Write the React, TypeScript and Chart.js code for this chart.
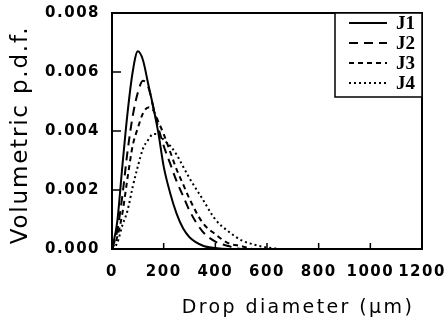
import React, { useEffect, useRef } from "react";
import { Chart, registerables } from "chart.js";

Chart.register(...registerables);

// Drop diameter (µm)
const diameters = [0, 20, 40, 60, 80, 100, 120, 140, 160, 180, 200, 225, 250, 275, 300, 350, 400, 450, 500, 550, 600, 650];
const j1 = [0, 0.0009, 0.0028, 0.0046, 0.006, 0.0067, 0.0064, 0.0056, 0.0048, 0.0039, 0.0028, 0.0019, 0.0012, 0.0007, 0.0004, 0.00012, 0.00003, 0, 0, 0, 0, 0];
const j2 = [0, 0.0006, 0.0018, 0.0033, 0.0045, 0.0053, 0.0057, 0.0055, 0.0048, 0.0041, 0.0035, 0.0029, 0.0023, 0.0018, 0.0013, 0.0006, 0.00025, 0.0001, 0, 0, 0, 0];
const j3 = [0, 0.0004, 0.0012, 0.0024, 0.0035, 0.0041, 0.0046, 0.0048, 0.0047, 0.0043, 0.0039, 0.0033, 0.0027, 0.0022, 0.0017, 0.0009, 0.0005, 0.0002, 0.0001, 0, 0, 0];
const j4 = [0, 0.0002, 0.0008, 0.0013, 0.0021, 0.0028, 0.0034, 0.0037, 0.0039, 0.0039, 0.0037, 0.0035, 0.0032, 0.0028, 0.0024, 0.0017, 0.001, 0.0006, 0.0003, 0.00015, 0.00005, 0];

const seriesLabels = ["J1", "J2", "J3", "J4"];
const seriesValues = [j1, j2, j3, j4];
const seriesDashes = [[], [9, 6], [5, 4], [2, 3]];

const xTicks = [0, 200, 400, 600, 800, 1000, 1200];
const yTicks = [0, 0.002, 0.004, 0.006, 0.008];

const xTitle = "Drop diameter (\u03bcm)";
const yTitle = "Volumetric p.d.f.";

const INK = "#000";

const decorPlugin = {
  id: "decor",
  beforeDraw(chart: any) {
    chart.ctx.letterSpacing = "1.5px";
  },
  afterDraw(chart: any) {
    const { ctx, chartArea: a, scales } = chart;
    const xs = scales.x;
    const ys = scales.y;
    ctx.save();
    ctx.letterSpacing = "0px";
    ctx.strokeStyle = INK;
    ctx.setLineDash([]);
    // frame
    ctx.lineWidth = 2;
    ctx.strokeRect(a.left, a.top, a.right - a.left, a.bottom - a.top);
    // inward ticks
    ctx.lineWidth = 1.5;
    ctx.beginPath();
    for (const v of yTicks) {
      const p = ys.getPixelForValue(v);
      ctx.moveTo(a.left, p);
      ctx.lineTo(a.left + 9, p);
    }
    for (const v of xTicks) {
      const p = xs.getPixelForValue(v);
      ctx.moveTo(p, a.bottom);
      ctx.lineTo(p, a.bottom - 6);
    }
    ctx.stroke();

    // legend box
    const bw = 87;
    const bh = 84;
    const bx = a.right - bw;
    const by = a.top;
    ctx.fillStyle = "#fff";
    ctx.fillRect(bx, by, bw, bh);
    ctx.lineWidth = 1.5;
    ctx.strokeRect(bx, by, bw, bh);
    chart.data.datasets.forEach((ds: any, i: number) => {
      const yy = by + 10 + i * 20;
      ctx.beginPath();
      ctx.lineWidth = 2;
      ctx.setLineDash(ds.borderDash || []);
      ctx.moveTo(bx + 14, yy);
      ctx.lineTo(bx + 52, yy);
      ctx.stroke();
      ctx.setLineDash([]);
      ctx.fillStyle = INK;
      ctx.font = "bold 19px 'Liberation Serif'";
      ctx.textAlign = "left";
      ctx.textBaseline = "middle";
      ctx.fillText(ds.label, bx + 61, yy + 1);
    });

    // axis titles
    ctx.fillStyle = INK;
    ctx.textAlign = "center";
    ctx.textBaseline = "middle";
    ctx.font = "19px 'DejaVu Sans'";
    ctx.letterSpacing = "2.4px";
    ctx.fillText(xTitle, a.left + 186, 308);

    ctx.save();
    ctx.translate(21, (a.top + a.bottom) / 2 + 4);
    ctx.rotate(-Math.PI / 2);
    ctx.font = "23px 'DejaVu Sans'";
    ctx.letterSpacing = "1.8px";
    ctx.fillText(yTitle, 0, 0);
    ctx.restore();

    ctx.restore();
  },
};

export default function App() {
  const ref = useRef<HTMLCanvasElement>(null);
  useEffect(() => {
    const canvas = ref.current;
    if (!canvas) return;
    const chart = new Chart(canvas, {
      type: "line",
      data: {
        datasets: seriesLabels.map((label, i) => ({
          label,
          data: diameters.map((d, k) => ({ x: d, y: seriesValues[i][k] })),
          borderColor: INK,
          borderWidth: 2,
          borderDash: seriesDashes[i],
          pointRadius: 0,
          fill: false,
          tension: 0.4,
          cubicInterpolationMode: "monotone",
        })),
      },
      options: {
        animation: false,
        responsive: false,
        layout: { padding: { left: 0, right: 25, top: 13, bottom: 0 } },
        scales: {
          x: {
            type: "linear",
            min: 0,
            max: 1200,
            afterBuildTicks: (s: any) => {
              s.ticks = xTicks.map((v) => ({ value: v }));
            },
            afterFit: (s: any) => {
              s.height = 76;
              s.paddingLeft = 0;
              s.paddingRight = 0;
            },
            grid: { display: false, drawTicks: false },
            border: { display: false },
            ticks: {
              autoSkip: false,
              maxRotation: 0,
              padding: 14,
              color: INK,
              font: { family: "'DejaVu Sans'", size: 15, weight: "bold" },
              callback: (v: any) => String(v),
            },
          },
          y: {
            type: "linear",
            min: 0,
            max: 0.008,
            afterBuildTicks: (s: any) => {
              s.ticks = yTicks.map((v) => ({ value: v }));
            },
            afterFit: (s: any) => {
              s.width = 112;
              s.paddingTop = 0;
              s.paddingBottom = 0;
            },
            grid: { display: false, drawTicks: false },
            border: { display: false },
            ticks: {
              autoSkip: false,
              padding: 12,
              color: INK,
              font: { family: "'DejaVu Sans'", size: 15, weight: "bold" },
              callback: (v: any) => Number(v).toFixed(3),
            },
          },
        },
        plugins: {
          legend: { display: false },
          tooltip: { enabled: false },
        },
      },
      plugins: [decorPlugin],
    } as any);
    return () => chart.destroy();
  }, []);
  return (
    <>
      <style>{"body{margin:0;background:#fff}"}</style>
      <canvas ref={ref} width={447} height={325} style={{ display: "block", width: 447, height: 325 }} />
    </>
  );
}
